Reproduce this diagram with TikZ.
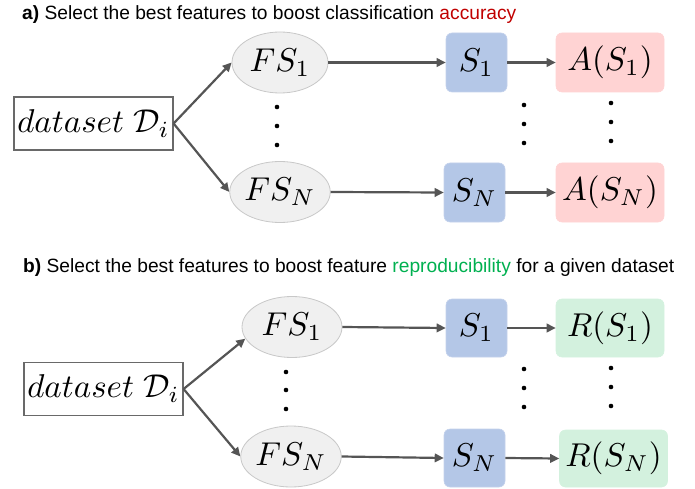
\documentclass[tikz,border=0pt]{standalone}
\usepackage{graphicx}
\usepackage{fontspec}
\setmainfont{Liberation Sans}
\usetikzlibrary{shapes.geometric,arrows.meta}

\definecolor{arrgray}{RGB}{85,85,85}
\definecolor{boxgray}{RGB}{105,105,105}
\definecolor{ellline}{RGB}{200,200,200}
\definecolor{ellfill}{RGB}{240,240,240}
\definecolor{sblue}{RGB}{180,199,231}
\definecolor{sbluedge}{RGB}{196,210,236}
\definecolor{apink}{RGB}{255,211,211}
\definecolor{rgreen}{RGB}{211,241,222}
\definecolor{accred}{RGB}{192,0,0}
\definecolor{repgreen}{RGB}{0,176,80}

% formulas set at 10pt and enlarged to 33pt
\newcommand{\bigmath}[1]{\scalebox{3.3}{$#1$}}

\tikzset{
  title/.style={anchor=base west, inner sep=0pt, font=\fontsize{19.2}{23}\selectfont},
  databox/.style={draw=boxgray, line width=1.2pt, minimum width=159pt,
    minimum height=53pt, inner sep=0pt},
  fsnode/.style={ellipse, draw=ellline, fill=ellfill, line width=0.8pt,
    minimum width=96pt, minimum height=61pt, inner sep=0pt},
  selbox/.style={rounded corners=6pt, draw=sbluedge, line width=0.6pt, fill=sblue,
    minimum width=61pt, minimum height=59pt, inner sep=0pt},
  scorebox/.style={rounded corners=6pt, line width=0.6pt,
    minimum width=108pt, minimum height=59pt, inner sep=0pt},
  accbox/.style={scorebox, fill=apink, draw=apink},
  repbox/.style={scorebox, fill=rgreen, draw=rgreen},
  arr/.style={draw=arrgray, line width=2.2pt, -{Triangle[length=9pt,width=8.5pt]}},
  vdot/.style={circle, fill=black, inner sep=0pt, minimum size=4.6pt},
}

\begin{document}
\begin{tikzpicture}[x=1pt,y=-1pt]
\useasboundingbox (0,0) rectangle (695,489);

% ---------- a) accuracy ----------
\node[title] (ta) at (22,20) {\textbf{a)} Select the best features to boost classification \textcolor{accred}{accuracy}};

\node[databox] (da) at (93.5,123.5) {\bigmath{dataset\ \mathcal{D}_i}};
\node[fsnode] (fa1) at (280,62.5) {\bigmath{FS_1}};
\node[fsnode] (faN) at (280,192) {\bigmath{FS_N}};
\node[selbox] (sa1) at (476.5,62.5) {\bigmath{S_1}};
\node[selbox] (saN) at (474.5,192.5) {\bigmath{S_N}};
\node[accbox] (aa1) at (610,62.5) {\bigmath{A(S_1)}};
\node[accbox] (aaN) at (610,192.5) {\bigmath{A(S_N)}};

\draw[arr] (da.east) -- (fa1.west);
\draw[arr] (da.east) -- (faN.west);
\draw[arr] (fa1.east) -- (sa1.west);
\draw[arr] (faN.east) -- (saN.west);
\draw[arr] (sa1.east) -- (aa1.west);
\draw[arr] (saN.east) -- (aaN.west);

\node[vdot] (dfa1) at (277,107) {};
\node[vdot] (dfa2) at (277,126) {};
\node[vdot] (dfa3) at (277,145) {};
\node[vdot] (dsa1) at (524,105) {};
\node[vdot] (dsa2) at (524,124) {};
\node[vdot] (dsa3) at (524,143) {};
\node[vdot] (daa1) at (611,103) {};
\node[vdot] (daa2) at (611,122) {};
\node[vdot] (daa3) at (611,141) {};

% ---------- b) reproducibility ----------
\node[title] (tb) at (23,272) {\textbf{b)} Select the best features to boost feature \textcolor{repgreen}{reproducibility} for a given dataset};

\node[databox] (db) at (103.5,389) {\bigmath{dataset\ \mathcal{D}_i}};
\node[fsnode, minimum width=100pt] (fb1) at (292,327) {\bigmath{FS_1}};
\node[fsnode, minimum width=100pt] (fbN) at (291,456.5) {\bigmath{FS_N}};
\node[selbox, minimum height=58pt] (sb1) at (476.5,328) {\bigmath{S_1}};
\node[selbox, minimum height=58pt] (sbN) at (474.5,458) {\bigmath{S_N}};
\node[repbox, minimum height=58pt] (rb1) at (610,328) {\bigmath{R(S_1)}};
\node[repbox, minimum height=57pt] (rbN) at (613.5,458.5) {\bigmath{R(S_N)}};

\draw[arr] (db.east) -- (fb1.194);
\draw[arr] (db.east) -- (fbN.west);
\draw[arr] (fb1.east) -- (sb1.west);
\draw[arr] (fbN.east) -- (sbN.west);
\draw[arr] (sb1.east) -- (rb1.west);
\draw[arr] (sbN.east) -- (rbN.west);

\node[vdot] (dfb1) at (286,372) {};
\node[vdot] (dfb2) at (286,390) {};
\node[vdot] (dfb3) at (286,409) {};
\node[vdot] (dsb1) at (524,369) {};
\node[vdot] (dsb2) at (524,388) {};
\node[vdot] (dsb3) at (524,407) {};
\node[vdot] (drb1) at (611,368) {};
\node[vdot] (drb2) at (611,387) {};
\node[vdot] (drb3) at (611,406) {};
\end{tikzpicture}
\end{document}
